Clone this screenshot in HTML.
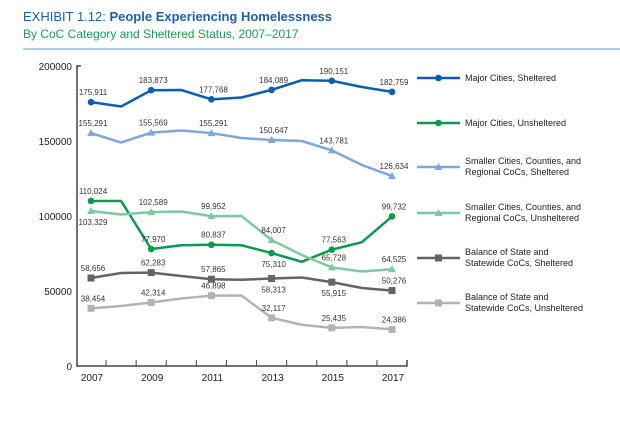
<!DOCTYPE html>
<html><head><meta charset="utf-8">
<style>
body{margin:0;background:#fff;width:620px;height:441px;overflow:hidden;font-family:"Liberation Sans",sans-serif}
svg text{font-family:"Liberation Sans",sans-serif}
</style></head><body>
<svg width="620" height="441" viewBox="0 0 620 441">
<text x="23" y="21" font-size="13" fill="#1f5fa8">EXHIBIT 1.12: <tspan font-weight="bold">People Experiencing Homelessness</tspan></text>
<text x="23" y="38" font-size="12" fill="#17a050">By CoC Category and Sheltered Status, 2007–2017</text>
<line x1="23" y1="49" x2="620" y2="49" stroke="#5b9bd5" stroke-width="1"/>
<g id="axes"></g>
<g id="series"></g>
<g id="legend"></g>
</svg>
<script>
const years=[2007,2008,2009,2010,2011,2012,2013,2014,2015,2016,2017];
const yTicks=[0,50000,100000,150000,200000];
const xTickLabels=["2007","2009","2011","2013","2015","2017"];
const seriesNames=["Major Cities, Sheltered","Major Cities, Unsheltered","Smaller Cities, Counties, and|Regional CoCs, Sheltered","Smaller Cities, Counties, and|Regional CoCs, Unsheltered","Balance of State and|Statewide CoCs, Sheltered","Balance of State and|Statewide CoCs, Unsheltered"];
const mcs=[175911,173000,183873,184000,177768,179000,184089,190500,190151,186000,182759];
const mcu=[110024,110000,77970,80500,80837,80500,75310,69500,77563,82500,99732];
const scs=[155291,149000,155569,157000,155291,152000,150647,150000,143781,134000,126634];
const scu=[103329,101000,102589,103000,99952,100000,84007,74000,65728,63000,64525];
const bss=[58656,62000,62283,60000,57865,57500,58313,59000,55915,52000,50276];
const bsu=[38454,40000,42314,45000,46898,47000,32117,27500,25435,26000,24386];
const seriesData=[mcs,mcu,scs,scu,bss,bsu];
const colors=["#0b5cb5","#0a9a4e","#7fa7d9","#7dc9a1","#646464","#b3b3b3"];
const markers=["circle","circle","tri","tri","square","square"];
const labelBelow=[[],[6],[],[0],[6,8],[]];
const legendY=[78,123,167,213,258,303];

const NS="http://www.w3.org/2000/svg";
function mk(t,a,p){const e=document.createElementNS(NS,t);for(const k in a)e.setAttribute(k,a[k]);p.appendChild(e);return e;}
const x0=91,dx=30.1,yBase=366,yScale=300/200000;
const xs=i=>x0+dx*i;
const ys=v=>yBase-v*yScale;
const fmt=v=>v.toLocaleString("en-US");
const ax=document.getElementById("axes"),sg=document.getElementById("series"),lg=document.getElementById("legend");

const yAxis=mk("path",{d:`M81,${ys(200000)} H77 V${yBase} H407 V${yBase-6}`,fill:"none",stroke:"#444","stroke-width":1.5},ax);


for(let i=0;i<=years.length;i++){const tx=x0-dx/2+dx*i;if(i>0&&i<years.length){const l=mk("line",{x1:tx,y1:yBase,x2:tx,y2:yBase-6,stroke:"#444","stroke-width":1},ax);

}}
yTicks.forEach(v=>{const t=mk("text",{x:72,y:ys(v)+4,"text-anchor":"end","font-size":10,fill:"#222"},ax);t.textContent=String(v);

});
xTickLabels.forEach(s=>{const i=years.indexOf(+s);const t=mk("text",{x:xs(i)+1,y:381,"text-anchor":"middle","font-size":10,fill:"#222"},ax);t.textContent=s;

});

function marker(type,cx,cy,c,p){let e;
if(type==="circle")e=mk("circle",{cx,cy,r:3.3,fill:c},p);
else if(type==="tri")e=mk("polygon",{points:`${cx},${cy-4} ${cx-4},${cy+3} ${cx+4},${cy+3}`,fill:c},p);
else e=mk("rect",{x:cx-3.5,y:cy-3.5,width:7,height:7,fill:c},p);return e;}

seriesData.forEach((d,s)=>{
const g=mk("g",{},sg);


const line=mk("polyline",{points:d.map((v,i)=>xs(i)+","+ys(v)).join(" "),fill:"none",stroke:colors[s],"stroke-width":2.5},g);


d.forEach((v,i)=>{if(i%2)return;
const m=marker(markers[s],xs(i),ys(v),colors[s],g);


const below=labelBelow[s].includes(i);
const t=mk("text",{x:xs(i)+2,y:ys(v)+(below?14:-7),"text-anchor":"middle","font-size":8,fill:"#333"},g);t.textContent=fmt(v);

});
const ly=legendY[s];
const ll=mk("line",{x1:417,y1:ly,x2:460,y2:ly,stroke:colors[s],"stroke-width":2.5},lg);


const lm=marker(markers[s],438.5,ly,colors[s],lg);


const parts=seriesNames[s].split("|");
const t=mk("text",{x:465,y:parts.length>1?ly-3:ly+3,"font-size":9,fill:"#222"},lg);


parts.forEach((p,k)=>{const ts=mk("tspan",{x:465,dy:k?11:0},t);ts.textContent=p;});
});
</script>
</body></html>
